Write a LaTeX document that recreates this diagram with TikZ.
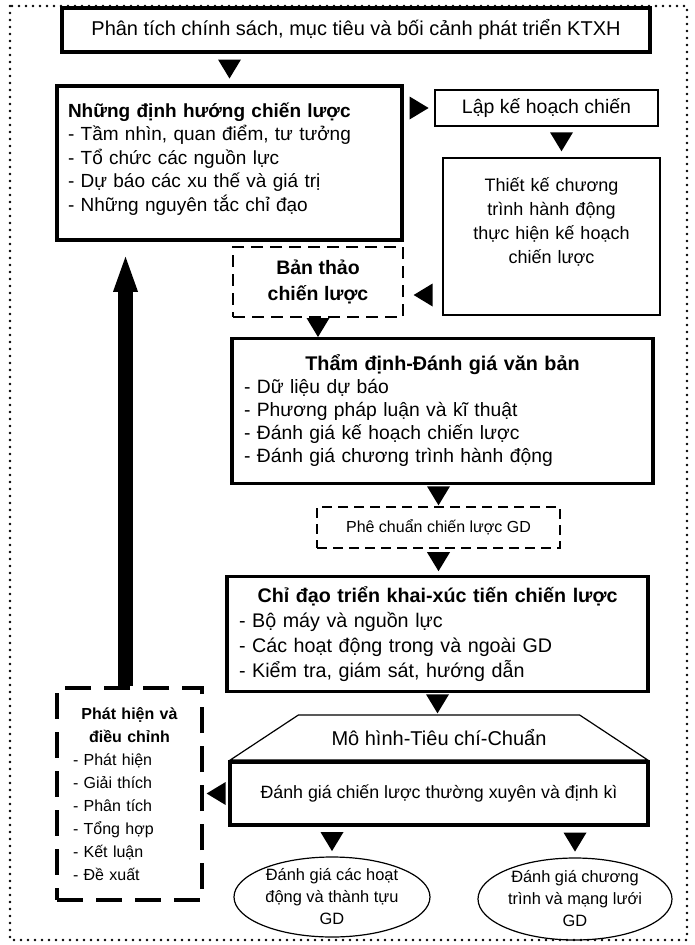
\documentclass[tikz,border=0pt]{standalone}
\usepackage{fontspec}
\setmainfont{Liberation Sans}
\usetikzlibrary{arrows.meta, shapes.geometric, decorations.markings, calc}

\newcommand{\fsz}[2]{\fontsize{#1}{#2}\selectfont}

\tikzset{
  box/.style={draw, rectangle, inner xsep=11pt, inner ysep=4pt, align=left},
  heavy/.style={box, line width=3.5pt},
  light/.style={box, line width=1.2pt},
  mid/.style={box, line width=2pt},
  dashbox/.style={box, line width=2.5pt, dash pattern=on 12pt off 7pt},
  thindash/.style={box, line width=1.3pt, dash pattern=on 10pt off 6pt},
  longdash/.style={box, line width=4pt, dash pattern=on 26pt off 13pt},
  bubble/.style={draw, ellipse, line width=1.2pt, align=center, inner sep=0pt},
  frame/.style={line width=2.6pt, dash pattern=on 0pt off 7pt, line cap=round},
  tri/.style={decoration={markings, mark=at position 0.5 with
      {\fill (9.5pt,0pt) -- (-9.5pt,11.5pt) -- (-9.5pt,-11.5pt) -- cycle;}},
    postaction={decorate}},
  bigup/.style={line width=15pt,
    -{Triangle[length=35pt, width=25pt, line width=0pt]}},
}

\begin{document}
\begin{tikzpicture}[x=1pt, y=-1pt]
  \useasboundingbox (0,0) rectangle (695,945);
  \draw[frame] (10,6) rectangle (687,940);

  % main column
  \node[heavy, minimum width=588pt, minimum height=44pt, align=center,
    font=\fsz{20}{22}] (top) at (356,30)
    {Phân tích chính sách, mục tiêu và bối cảnh phát triển KTXH};
  \node[heavy, text width=323pt, minimum height=154pt, text depth=106pt,
    font=\fsz{19}{23.5}] (dinh) at (229.5,163)
    {\textbf{Những định hướng chiến lược}\\
     - Tầm nhìn, quan điểm, tư tưởng\\
     - Tổ chức các nguồn lực\\
     - Dự báo các xu thế và giá trị\\
     - Những nguyên tắc chỉ đạo};
  \node[light, minimum width=223pt, minimum height=36pt, align=center,
    font=\fsz{19.5}{22}] (lap) at (546.5,108) {Lập kế hoạch chiến};
  \node[mid, text width=195pt, minimum height=157pt, align=center,
    text depth=104pt, font=\fsz{18}{24}] (thiet) at (551.5,236.5)
    {Thiết kế chương\\trình hành động\\thực hiện kế hoạch\\chiến lược};
  \node[dashbox, minimum width=170pt, minimum height=70pt, align=center,
    font=\fsz{19.5}{26}\bfseries] (ban) at (318,282) {Bản thảo\\chiến lược};
  \node[heavy, text width=397pt, inner xsep=12pt, minimum height=145pt,
    font=\fsz{19.3}{23}] (tham) at (442.5,411)
    {{\centering\fsz{19.8}{23}\bfseries Thẩm định-Đánh giá văn bản\par}
     - Dữ liệu dự báo\\
     - Phương pháp luận và kĩ thuật\\
     - Đánh giá kế hoạch chiến lược\\
     - Đánh giá chương trình hành động};
  \node[thindash, minimum width=243pt, minimum height=41pt, align=center,
    font=\fsz{16}{18}] (phe) at (438.5,527.5) {Phê chuẩn chiến lược GD};
  \node[heavy, text width=397pt, inner xsep=12pt, minimum height=115pt,
    font=\fsz{19.7}{25}] (chi) at (437.5,634)
    {{\centering\bfseries Chỉ đạo triển khai-xúc tiến chiến lược\par}
     - Bộ máy và nguồn lực\\
     - Các hoạt động trong và ngoài GD\\
     - Kiểm tra, giám sát, hướng dẫn};
  \node[draw, trapezium, trapezium stretches=true, trapezium angle=23.2,
    minimum width=418pt, minimum height=45pt, line width=1.2pt,
    font=\fsz{20}{22}] (mohinh) at (439,737.5) {Mô hình-Tiêu chí-Chuẩn};
  \node[heavy, minimum width=418pt, minimum height=63pt, align=center,
    font=\fsz{17.8}{22}] (eval) at (439,793.5)
    {Đánh giá chiến lược thường xuyên và định kì};
  \node[bubble, minimum width=196pt, minimum height=80pt,
    font=\fsz{16.4}{22}] (ellL) at (332,897)
    {Đánh giá các hoạt\\động và thành tựu\\GD};
  \node[bubble, minimum width=194pt, minimum height=82pt,
    font=\fsz{16.4}{22}] (ellR) at (575,899)
    {Đánh giá chương\\trình và mạng lưới\\GD};

  % feedback
  \node[longdash, text width=113pt, inner xsep=16pt, minimum height=212pt,
    font=\fsz{16}{23}] (phat) at (129.5,794)
    {{\centering\bfseries Phát hiện và\\điều chỉnh\par}
     - Phát hiện\\
     - Giải thích\\
     - Phân tích\\
     - Tổng hợp\\
     - Kết luận\\
     - Đề xuất};

  % connectors
  \path[tri] (dinh.north |- top.south) -- (dinh.north);
  \path[tri] (dinh.east |- lap.west) -- (lap.west);
  \path[tri] ([xshift=15pt]lap.south) -- ([xshift=15pt]lap.south |- thiet.north);
  \path[tri] ([yshift=-13pt]ban.east -| thiet.west) -- ([yshift=-13pt]ban.east);
  \path[tri] (ban.south) -- (ban.south |- tham.north);
  \path[tri] (phe.north |- tham.south) -- (phe.north);
  \path[tri] (phe.south) -- (phe.south |- chi.north);
  \path[tri] (chi.south) -- (chi.south |- mohinh.north);
  \path[tri] (eval.west) -- (eval.west -| phat.east);
  \path[tri] (ellL.north |- eval.south) -- (ellL.north);
  \path[tri] (ellR.north |- eval.south) -- (ellR.north);
  \draw[bigup, shorten >=15pt] ([xshift=-4pt]phat.north)
    -- ([xshift=-4pt]phat.north |- dinh.south);
\end{tikzpicture}
\end{document}
